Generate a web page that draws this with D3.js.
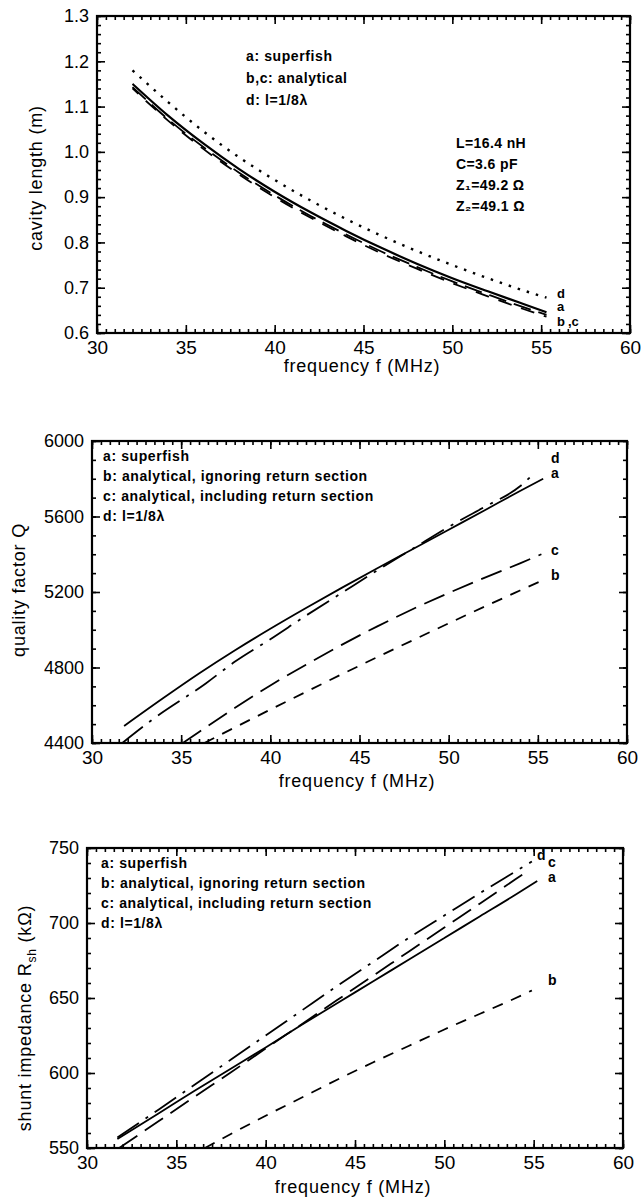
<!DOCTYPE html>
<html><head><meta charset="utf-8">
<script src="https://cdn.jsdelivr.net/npm/d3@7"></script>
<style>
body{margin:0;background:#fff;}
svg{display:block;}
text{font-family:"Liberation Sans","DejaVu Sans",sans-serif;fill:#000;}
</style></head>
<body>
<svg id="c" width="641" height="1200"></svg>
<script>
// ---------- DATA ----------
const xTickValues = [30, 35, 40, 45, 50, 55, 60];

// Panel 1: cavity length (m)
const p1YTicks = [0.6, 0.7, 0.8, 0.9, 1.0, 1.1, 1.2, 1.3];
const p1Freq = [32, 34, 36, 38, 40, 42, 44, 46, 48, 50, 52, 54, 55.3];
const p1LenA = [1.150, 1.080, 1.018, 0.962, 0.912, 0.867, 0.826, 0.788, 0.753, 0.721, 0.692, 0.664, 0.646];
const p1LenB = [1.143, 1.072, 1.010, 0.954, 0.904, 0.859, 0.818, 0.780, 0.746, 0.714, 0.685, 0.657, 0.640];
const p1LenC = [1.140, 1.069, 1.006, 0.950, 0.900, 0.855, 0.814, 0.776, 0.742, 0.710, 0.681, 0.653, 0.636];
const p1LenD = [1.180, 1.110, 1.045, 0.988, 0.938, 0.893, 0.852, 0.815, 0.781, 0.750, 0.721, 0.694, 0.678];
const p1Legend = ["a: superfish", "b,c: analytical", "d: l=1/8\u03bb"];
const p1Params = ["L=16.4  nH", "C=3.6  pF", "Z\u2081=49.2  \u03a9", "Z\u2082=49.1  \u03a9"];

// Panel 2: quality factor Q
const p2YTicks = [4400, 4800, 5200, 5600, 6000];
const p2FreqA = [31.8, 34, 36, 38, 40, 42, 44, 46, 48, 50, 52, 54, 55.3];
const p2QA = [4490, 4638, 4768, 4890, 5005, 5115, 5222, 5326, 5428, 5530, 5632, 5735, 5800];
const p2FreqB = [36.3, 38, 40, 42, 44, 46, 48, 50, 52, 54, 55.1];
const p2QB = [4400, 4482, 4577, 4671, 4764, 4855, 4945, 5034, 5122, 5208, 5255];
const p2FreqC = [35.1, 36, 38, 40, 42, 44, 46, 48, 50, 52, 54, 55.2];
const p2QC = [4400, 4458, 4585, 4705, 4815, 4920, 5018, 5110, 5195, 5275, 5352, 5400];
const p2FreqD = [31.7, 33.4, 36.4, 38, 40, 42, 44, 46, 48, 50, 52, 54, 54.8];
const p2QD = [4400, 4525, 4717, 4830, 4950, 5075, 5195, 5315, 5430, 5545, 5650, 5760, 5830];

// Panel 3: shunt impedance (kΩ)
const p3YTicks = [550, 600, 650, 700, 750];
const p3FreqA = [31.7, 34, 36, 38, 40, 42, 44, 46, 48, 50, 52, 54, 55.2];
const p3RA = [556, 573, 588, 602.5, 617, 632, 646.5, 661, 675.5, 690, 704.5, 719, 728];
const p3FreqB = [36.6, 38, 40, 42, 44, 46, 48, 50, 52, 54, 54.9];
const p3RB = [550, 559, 571.5, 583.5, 595.5, 607, 618, 629, 639.5, 650, 655];
const p3FreqC = [31.8, 34, 36, 38, 40, 42, 44, 46, 48, 50, 52, 54, 54.7];
const p3RC = [550, 567.8, 584, 600, 616.3, 632.4, 648.6, 664.7, 680.9, 697, 713, 729.3, 735];
const p3FreqD = [31.7, 34, 36, 38, 40, 42, 44, 46, 48, 50, 52, 54, 54.9];
const p3RD = [557, 575.5, 592, 608.5, 625, 641.5, 658, 674, 690, 705, 720, 734.5, 741];

const legendLong = ["a: superfish", "b: analytical, ignoring return section",
                    "c: analytical, including return section", "d: l=1/8\u03bb"];

// ---------- DRAW ----------
const svg = d3.select("#c");

function panel(cfg) {
  const g = svg.append("g");
  const x = d3.scaleLinear().domain([30, 60]).range([cfg.L, cfg.R]);
  const y = d3.scaleLinear().domain(cfg.yDomain).range([cfg.B, cfg.T]);

  const minorX = d3.range(30, 60.001, 0.5);
  const minorY = d3.range(cfg.yDomain[0], cfg.yDomain[1] + 1e-9, cfg.yMinor);
  const styleAxis = sel => { sel.select(".domain").remove(); sel.selectAll("line").attr("stroke", "#000").attr("stroke-width", 1.6); };

  g.append("g").attr("transform", `translate(0,${cfg.B})`)
    .call(d3.axisBottom(x).tickValues(minorX).tickSize(-4).tickFormat("")).call(styleAxis);
  g.append("g").attr("transform", `translate(0,${cfg.T})`)
    .call(d3.axisTop(x).tickValues(minorX).tickSize(-4).tickFormat("")).call(styleAxis);
  g.append("g").attr("transform", `translate(${cfg.L},0)`)
    .call(d3.axisLeft(y).tickValues(minorY).tickSize(-4).tickFormat("")).call(styleAxis);
  g.append("g").attr("transform", `translate(${cfg.R},0)`)
    .call(d3.axisRight(y).tickValues(minorY).tickSize(-4).tickFormat("")).call(styleAxis);

  const xb = g.append("g").attr("transform", `translate(0,${cfg.B})`)
    .call(d3.axisBottom(x).tickValues(xTickValues).tickSize(-8).tickPadding(6).tickFormat(d3.format("d")));
  styleAxis(xb);
  xb.selectAll("text").attr("font-size", 19).attr("dy", "0.78em").attr("fill", "#000")
    .attr("font-family", "Liberation Sans, sans-serif");
  g.append("g").attr("transform", `translate(0,${cfg.T})`)
    .call(d3.axisTop(x).tickValues(xTickValues).tickSize(-8).tickFormat("")).call(styleAxis);
  const yl = g.append("g").attr("transform", `translate(${cfg.L},0)`)
    .call(d3.axisLeft(y).tickValues(cfg.yTicks).tickSize(-8).tickPadding(8).tickFormat(cfg.yFormat));
  styleAxis(yl);
  yl.selectAll("text").attr("font-size", 18).attr("fill", "#000")
    .attr("font-family", "Liberation Sans, sans-serif");
  g.append("g").attr("transform", `translate(${cfg.R},0)`)
    .call(d3.axisRight(y).tickValues(cfg.yTicks).tickSize(-8).tickFormat("")).call(styleAxis);

  g.append("rect").attr("x", cfg.L).attr("y", cfg.T)
    .attr("width", cfg.R - cfg.L).attr("height", cfg.B - cfg.T)
    .attr("fill", "none").attr("stroke", "#000").attr("stroke-width", 2.2);

  const line = d3.line().x(d => x(d[0])).y(d => y(d[1])).curve(d3.curveMonotoneX);
  cfg.series.forEach(s => {
    g.append("path").datum(d3.zip(s.fx, s.fy)).attr("d", line)
      .attr("fill", "none").attr("stroke", "#000").attr("stroke-width", s.w || 1.8)
      .attr("stroke-dasharray", s.dash || null)
      .attr("stroke-dashoffset", s.off || 0);
  });

  cfg.endLabels.forEach(l => {
    g.append("text").attr("x", l.x).attr("y", l.y).attr("font-size", l.fs || 14).attr("font-weight", "bold")
      .text(l.t);
  });

  cfg.legend.forEach((t, i) => {
    g.append("text").attr("x", cfg.legX).attr("y", cfg.legY + i * cfg.legDy)
      .attr("font-size", 14).attr("font-weight", "bold").attr("letter-spacing", 0.6).text(t);
  });

  g.append("text").attr("x", cfg.xtX).attr("y", cfg.xtY).attr("text-anchor", "middle")
    .attr("font-size", 18).attr("letter-spacing", 0.8).text("frequency  f  (MHz)");
  const yt = g.append("text").attr("transform", `translate(${cfg.ytX},${cfg.ytY}) rotate(-90)`)
    .attr("text-anchor", "middle").attr("font-size", 18).attr("letter-spacing", 0.8);
  cfg.yTitle(yt);
  return {g, x, y};
}

// Panel 1
const P1 = panel({
  L: 97, R: 630, T: 16, B: 333,
  yDomain: [0.6, 1.3], yTicks: p1YTicks, yMinor: 0.02, yFormat: d3.format(".1f"),
  series: [
    {fx: p1Freq, fy: p1LenA, w: 2.2},
    {fx: p1Freq, fy: p1LenB, dash: "18,8", w: 1.8},
    {fx: p1Freq, fy: p1LenC, dash: "14,10", off: 6, w: 1.8},
    {fx: p1Freq, fy: p1LenD, dash: "2.5,7", w: 2.4}
  ],
  endLabels: [{x: 557, y: 298, t: "d", fs: 13}, {x: 557, y: 311, t: "a", fs: 13},
              {x: 557, y: 326, t: "b", fs: 13}, {x: 568, y: 326, t: ",c", fs: 13}],
  legend: p1Legend, legX: 246, legY: 61, legDy: 22,
  xtX: 362, xtY: 372, ytX: 42, ytY: 178,
  yTitle: t => t.text("cavity  length  (m)")
});
P1.g.selectAll(null).data(p1Params).enter().append("text")
  .attr("x", 456).attr("y", (d, i) => 148 + i * 21)
  .attr("font-size", 14).attr("font-weight", "bold").attr("letter-spacing", 0.4).text(d => d);

// Panel 2
panel({
  L: 92, R: 627, T: 441, B: 743,
  yDomain: [4400, 6000], yTicks: p2YTicks, yMinor: 100, yFormat: d3.format("d"),
  series: [
    {fx: p2FreqA, fy: p2QA, w: 1.8},
    {fx: p2FreqB, fy: p2QB, dash: "11,9", w: 1.8},
    {fx: p2FreqC, fy: p2QC, dash: "22,9", w: 1.8},
    {fx: p2FreqD, fy: p2QD, dash: "26,8,3,8", w: 1.8}
  ],
  endLabels: [{x: 551, y: 463, t: "d"}, {x: 551, y: 478, t: "a"}, {x: 551, y: 555, t: "c"}, {x: 551, y: 580, t: "b"}],
  legend: legendLong, legX: 103, legY: 461, legDy: 20,
  xtX: 357, xtY: 787, ytX: 25, ytY: 590,
  yTitle: t => t.text("quality  factor  Q")
});

// Panel 3
panel({
  L: 87, R: 623, T: 848, B: 1148,
  yDomain: [550, 750], yTicks: p3YTicks, yMinor: 10, yFormat: d3.format("d"),
  series: [
    {fx: p3FreqA, fy: p3RA, w: 1.8},
    {fx: p3FreqB, fy: p3RB, dash: "11,9", w: 1.8},
    {fx: p3FreqC, fy: p3RC, dash: "22,9", w: 1.8},
    {fx: p3FreqD, fy: p3RD, dash: "26,8,3,8", w: 1.8}
  ],
  endLabels: [{x: 537, y: 860, t: "d"}, {x: 548, y: 867, t: "c"}, {x: 548, y: 882, t: "a"}, {x: 548, y: 985, t: "b"}],
  legend: legendLong, legX: 101, legY: 868, legDy: 20,
  xtX: 353, xtY: 1193, ytX: 31, ytY: 1018,
  yTitle: t => {
    t.append("tspan").text("shunt  impedance  R");
    t.append("tspan").attr("font-size", 12).attr("dy", 5).text("sh");
    t.append("tspan").attr("dy", -5).text(" (k\u03a9)");
  }
});
</script>
</body></html>
